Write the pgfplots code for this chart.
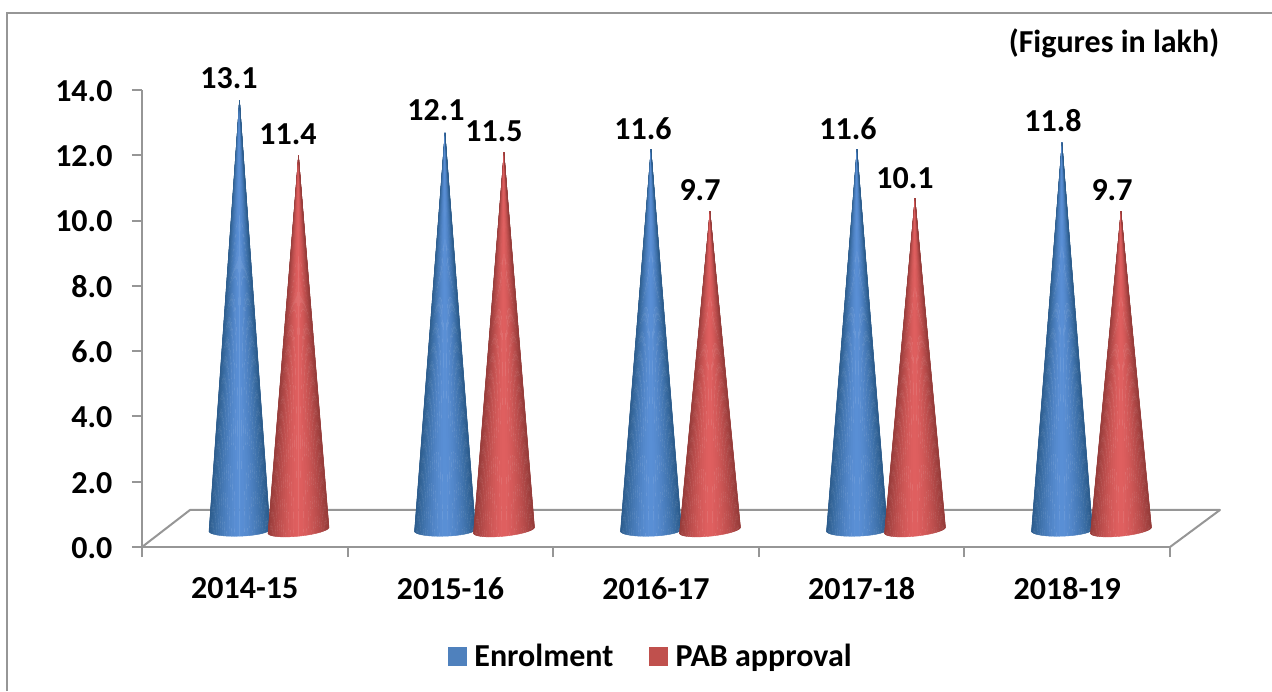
\documentclass[border=0pt]{standalone}
\usepackage{fontspec}
\setmainfont{Carlito}
\usepackage{pgfplots}
\pgfplotsset{compat=1.18}
\definecolor{axgray}{HTML}{969696}
\definecolor{legblue}{HTML}{4F81BD}
\definecolor{legred}{HTML}{C0504D}
\newcommand\bigb{\fontsize{32}{38}\selectfont\bfseries}
% cone: #1 centre (px), #2 value, #3 tilt (px), #4-6 edge rgb, #7-9 centre rgb
\newcommand\cone[9]{%
 \def\mycx{#1}\def\mycv{#2}\def\myct{#3}%
 \def\myra{#4}\def\myga{#5}\def\myba{#6}\def\myrb{#7}\def\mygb{#8}\def\mybb{#9}%
 \pgfmathsetmacro\myapx{(\mycx-142)/205.6}%
 \pgfmathsetmacro\myapy{\mycv+0.58}%
 \pgfplotsforeachungrouped \myi in {0,...,35}{%
   \pgfmathsetmacro\mytha{\myi*5}%
   \pgfmathsetmacro\mythb{(\myi+1)*5}%
   \pgfmathsetmacro\myxa{(\mycx-30.5*cos(\mytha)-142)/205.6}%
   \pgfmathsetmacro\myxb{(\mycx-30.5*cos(\mythb)-142)/205.6}%
   \pgfmathsetmacro\myya{(547-530.2-\myct*cos(\mytha)-6*sin(\mytha))/32.643}%
   \pgfmathsetmacro\myyb{(547-530.2-\myct*cos(\mythb)-6*sin(\mythb))/32.643}%
   \pgfmathsetmacro\myt{abs(cos(\mytha+2.5))^1.6}%
   \pgfmathsetmacro\mycr{int(\myrb+(\myra-\myrb)*\myt)}%
   \pgfmathsetmacro\mycg{int(\mygb+(\myga-\mygb)*\myt)}%
   \pgfmathsetmacro\mycb{int(\mybb+(\myba-\mybb)*\myt)}%
   \edef\mytemp{\noexpand\addplot[forget plot,line width=0.4pt,line join=round,
      draw={rgb,255:red,\mycr;green,\mycg;blue,\mycb},fill={rgb,255:red,\mycr;green,\mycg;blue,\mycb}]
      coordinates {(\myapx,\myapy)(\myxa,\myya)(\myxb,\myyb)} --cycle;}\mytemp
 }%
}
\newcommand\bluecone[2]{\cone{#1}{#2}{1}{44}{92}{140}{90}{144}{214}}
\newcommand\redcone[2]{\cone{#1}{#2}{3}{150}{60}{58}{224}{96}{96}}
\newcommand\lab[3]{\pgfmathsetmacro\mylx{(#1-142)/205.6}\pgfmathsetmacro\myly{(547-#2)/32.643}\edef\mytemp{\noexpand\node[font=\noexpand\bigb,text=black] at (axis cs:\mylx,\myly) {#3};}\mytemp}
\begin{document}
\begin{tikzpicture}[x=1pt,y=1pt]
\useasboundingbox (0,0) rectangle (1272,691);
\begin{axis}[
  at={(142pt,144pt)},anchor=origin,
  scale only axis,width=1028pt,height=457pt,
  xmin=0,xmax=5,ymin=0,ymax=14,
  clip=false,
  axis x line*=bottom,axis y line*=left,
  axis line style={axgray,line width=2pt,-},
  xtick={0,1,2,3,4,5},
  x tick label as interval=true,
  xticklabels={2014-15,2015-16,2016-17,2017-18,2018-19},
  ytick={0,2,...,14},
  tick style={axgray,line width=2pt},
  major tick length=10pt,
  tick align=outside,
  tick label style={font=\bigb,text=black},
  xticklabel style={yshift=-17pt},
  yticklabel style={xshift=-16pt,yshift=-1pt,/pgf/number format/.cd,fixed,fixed zerofill,precision=1,assume math mode=true},
  legend style={at={(0.495,-0.2385)},anchor=center,draw=none,fill=none,legend columns=2,
     font=\bigb,
     /tikz/every even column/.append style={column sep=34pt}},
  legend cell align=left,
  legend image code/.code={\fill[#1] (0pt,-9pt) rectangle (18pt,9pt);\path (24pt,0pt);},
]
\addlegendimage{legblue}\addlegendentry{Enrolment}
\addlegendimage{legred}\addlegendentry{PAB approval}
% floor
\addplot[forget plot,axgray,line width=2pt,line join=round] coordinates {(0,0)(0.2335,1.134)(5.243,1.134)(5,0)};
% cones: category 2014-15 .. 2018-19
\bluecone{239.5}{13.1}\redcone{298.5}{11.4}
\bluecone{445}{12.1}\redcone{504}{11.5}
\bluecone{651}{11.6}\redcone{710}{9.7}
\bluecone{857}{11.6}\redcone{915}{10.1}
\bluecone{1062}{11.8}\redcone{1121}{9.7}
% value labels (px centre)
\lab{229}{78}{13.1}\lab{288}{134}{11.4}
\lab{436}{110}{12.1}\lab{494}{131}{11.5}
\lab{643}{129}{11.6}\lab{700}{190}{9.7}
\lab{848}{129}{11.6}\lab{905}{178}{10.1}
\lab{1053}{121}{11.8}\lab{1112}{190}{9.7}
\lab{1114}{43}{(Figures in lakh)}
\end{axis}
\draw[axgray,line width=2pt] (7,0) -- (7,678) -- (1272,678);
\end{tikzpicture}
\end{document}
